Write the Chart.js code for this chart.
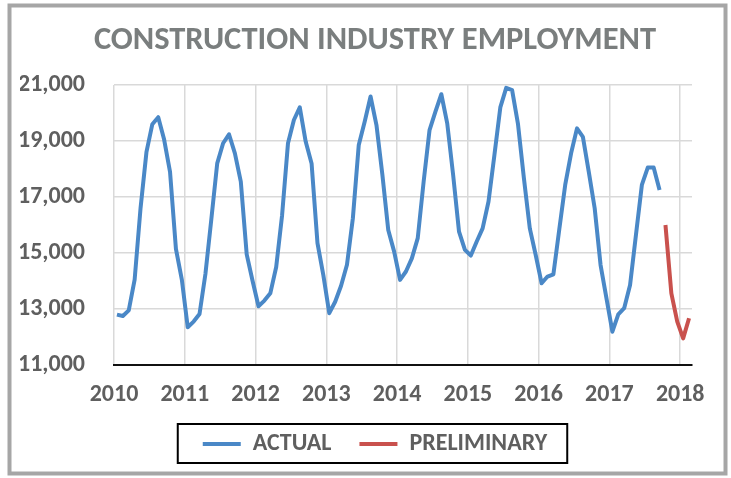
<!DOCTYPE html>
<html>
<head>
<meta charset="utf-8">
<script src="https://cdn.jsdelivr.net/npm/chart.js@4"></script>
<style>
html,body{margin:0;padding:0;background:#fff;}
#wrap{width:731px;height:478px;position:relative;}
</style>
</head>
<body>
<div id="wrap"><canvas id="c" width="731" height="478"></canvas></div>
<script>
// ---- data (monthly, thousands of workers) ----
const yearLabels = ['2010', '2011', '2012', '2013', '2014', '2015', '2016', '2017', '2018'];
const yTickValues = [11000, 13000, 15000, 17000, 19000, 21000];

const actual2010 = [12800, 12750, 12950, 14050, 16600, 18600, 19600, 19850, 19050, 17900, 15150, 14050];
const actual2011 = [12350, 12550, 12820, 14250, 16200, 18200, 18920, 19240, 18560, 17550, 14950, 14000];
const actual2012 = [13100, 13300, 13560, 14500, 16350, 18920, 19750, 20200, 18980, 18200, 15350, 14200];
const actual2013 = [12850, 13260, 13830, 14580, 16240, 18860, 19690, 20590, 19570, 17800, 15820, 15050];
const actual2014 = [14040, 14340, 14810, 15530, 17550, 19390, 20050, 20670, 19630, 17790, 15760, 15110];
const actual2015 = [14910, 15410, 15880, 16840, 18500, 20200, 20900, 20820, 19600, 17670, 15880, 14930];
const actual2016 = [13920, 14160, 14240, 15850, 17430, 18560, 19450, 19150, 17900, 16600, 14570, 13380];
const actual2017 = [12190, 12810, 13030, 13860, 15650, 17430, 18050, 18050, 17250];
const preliminary = [16000, 13560, 12550, 11950, 12670]; // Oct 2017 - Feb 2018

const actual = [].concat(actual2010, actual2011, actual2012, actual2013,
                         actual2014, actual2015, actual2016, actual2017);
const monthsPerYear = 12;
const totalMonths = actual.length + preliminary.length;

// each month is plotted in the middle of its slot
const actualPoints = actual.map((v, i) => ({ x: i + 0.5, y: v }));
const prelimPoints = preliminary.map((v, i) => ({ x: actual.length + i + 0.5, y: v }));

// ---- styling ----
const FONT = 'Carlito, "Liberation Sans", sans-serif';
const TEXT = '#5f5f5f';
const GRID = '#d9d9d9';

const framePlugin = {
  id: 'frame',
  beforeDraw(chart) {
    const ctx = chart.ctx;
    ctx.save();
    ctx.fillStyle = '#ffffff';
    ctx.fillRect(0, 0, chart.width, chart.height);
    ctx.restore();
  },
  afterDraw(chart) {
    const ctx = chart.ctx;
    ctx.save();
    const hb = chart.legend.legendHitBoxes;
    if (hb && hb.length) {
      const first = hb[0], last = hb[hb.length - 1];
      const l = first.left - 25;
      const r = last.left + last.width + 20;
      const cy = first.top + first.height / 2;
      ctx.strokeStyle = '#000';
      ctx.lineWidth = 2;
      ctx.strokeRect(l, cy - 20, r - l, 39);
    }
    ctx.strokeStyle = '#a6a6a6';
    ctx.lineWidth = 4;
    ctx.strokeRect(9.5, 5.5, 716, 468);
    ctx.restore();
  }
};

new Chart(document.getElementById('c'), {
  type: 'line',
  data: {
    datasets: [
      {
        label: 'ACTUAL',
        data: actualPoints,
        borderColor: '#4a88c7',
        backgroundColor: '#4a88c7',
        borderWidth: 4,
        pointRadius: 0,
        tension: 0,
        borderJoinStyle: 'round'
      },
      {
        label: 'PRELIMINARY',
        data: prelimPoints,
        borderColor: '#c9514d',
        backgroundColor: '#c9514d',
        borderWidth: 4,
        pointRadius: 0,
        tension: 0,
        borderJoinStyle: 'round'
      }
    ]
  },
  options: {
    responsive: false,
    animation: false,
    devicePixelRatio: 1,
    layout: { padding: { left: 20, right: 1, top: 0, bottom: 12 } },
    scales: {
      x: {
        type: 'linear',
        min: 0,
        max: totalMonths,
        afterBuildTicks: s => { s.ticks = yearLabels.map((_, i) => ({ value: i * monthsPerYear })); },
        afterFit: s => { s.height = 39; },
        ticks: {
          callback: (v, i) => yearLabels[i],
          autoSkip: false,
          maxRotation: 0,
          padding: 16,
          color: TEXT,
          font: { family: FONT, size: 24, weight: 'bold', lineHeight: 1.2 }
        },
        grid: { color: GRID, lineWidth: 1.5, drawTicks: false },
        border: { display: true, color: '#111', width: 2 }
      },
      y: {
        min: 11000,
        max: 21000,
        afterBuildTicks: s => { s.ticks = yTickValues.map(v => ({ value: v })); },
        afterFit: s => { s.width = 94; },
        ticks: {
          callback: v => v.toLocaleString('en-US'),
          padding: 29,
          color: TEXT,
          font: { family: FONT, size: 24, weight: 'bold', lineHeight: 1.2 }
        },
        grid: {
          color: c => (c.tick && c.tick.value === yTickValues[0]) ? 'rgba(0,0,0,0)' : GRID,
          lineWidth: 1.5,
          drawTicks: false
        },
        border: { display: false }
      },
      yRight: {
        position: 'right',
        display: true,
        afterFit: s => { s.width = 38; },
        ticks: { display: false },
        grid: { display: false, drawTicks: false },
        border: { display: false }
      }
    },
    plugins: {
      title: {
        display: true,
        text: 'CONSTRUCTION INDUSTRY EMPLOYMENT',
        color: '#7a7e7e',
        font: { family: FONT, size: 32.5, weight: 'bold', lineHeight: 1.2 },
        padding: { top: 21, bottom: 25 }
      },
      legend: {
        position: 'bottom',
        labels: {
          boxWidth: 38,
          boxHeight: 4,
          padding: 28,
          color: TEXT,
          font: { family: FONT, size: 24, weight: 'bold', lineHeight: 1.2 },
          generateLabels: chart => Chart.defaults.plugins.legend.labels.generateLabels(chart)
            .map(l => Object.assign(l, { lineWidth: 0 }))
        }
      },
      tooltip: { enabled: false }
    }
  },
  plugins: [framePlugin]
});
</script>
</body>
</html>
